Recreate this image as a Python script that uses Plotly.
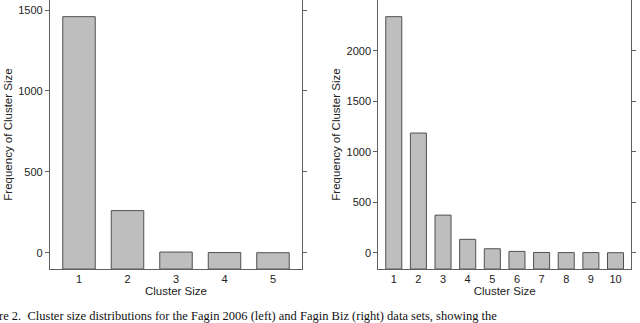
import plotly.graph_objects as go

# cluster size distributions
left_sizes = [1, 2, 3, 4, 5]
left_freq = [1459, 261, 5, 2, 1]
right_sizes = [1, 2, 3, 4, 5, 6, 7, 8, 9, 10]
right_freq = [2337, 1185, 373, 133, 40, 14, 3, 2, 2, 1]

left_yticks = [0, 500, 1000, 1500]
right_yticks = [0, 500, 1000, 1500, 2000]

caption = "re 2.  Cluster size distributions for the Fagin 2006 (left) and Fagin Biz (right) data sets, showing the"

left_base = -100
right_base = -161

fill = '#bebebe'
edge = '#505050'
axcol = '#606060'
font = dict(family='Liberation Sans', size=11, color='#222222')
tfont = dict(family='Liberation Sans', size=11.5, color='#222222')

fig = go.Figure()

fig.add_trace(go.Bar(x=left_sizes, y=[v - left_base for v in left_freq], base=left_base,
                     width=0.67, marker=dict(color=fill, line=dict(color=edge, width=1)),
                     xaxis='x', yaxis='y', showlegend=False))
fig.add_trace(go.Bar(x=right_sizes, y=[v - right_base for v in right_freq], base=right_base,
                     width=0.65, marker=dict(color=fill, line=dict(color=edge, width=1)),
                     xaxis='x2', yaxis='y2', showlegend=False))

xcommon = dict(showline=True, linecolor=axcol, linewidth=1, mirror=False,
               showgrid=False, zeroline=False, ticks='', tickfont=font,
               automargin=False,
               title=dict(text='Cluster Size', font=tfont, standoff=2))
ycommon = dict(showline=True, linecolor=axcol, linewidth=1, mirror='ticks',
               showgrid=False, zeroline=False, ticks='outside', ticklen=4,
               tickcolor=axcol, tickfont=font, automargin=False,
               title=dict(text='Frequency of Cluster Size', font=tfont, standoff=3))

fig.update_layout(
    width=640, height=323,
    margin=dict(l=0, r=0, t=0, b=0),
    paper_bgcolor='white', plot_bgcolor='white',
    font=font,
    xaxis=dict(xcommon, domain=[0.078, 0.472], range=[0.4, 5.6],
               tickvals=left_sizes, anchor='y'),
    yaxis=dict(ycommon, domain=[0.167, 1], range=[left_base, 1562],
               tickvals=left_yticks, anchor='x'),
    xaxis2=dict(xcommon, domain=[0.591, 0.986], range=[0.37, 10.63],
                tickvals=right_sizes, anchor='y2'),
    yaxis2=dict(ycommon, domain=[0.167, 1], range=[right_base, 2502],
                tickvals=right_yticks, anchor='x2'),
    annotations=[dict(text=caption, xref='paper', yref='paper', x=-0.005, y=-0.005,
                      xanchor='left', yanchor='bottom', showarrow=False,
                      font=dict(family='Liberation Serif', size=12.5, color='#111111'))],
)

# page body has a default margin; drop it so the figure sits at the corner
fig.write_html("out.html", config={'displayModeBar': False},
               post_script="document.body.style.margin='0';")
